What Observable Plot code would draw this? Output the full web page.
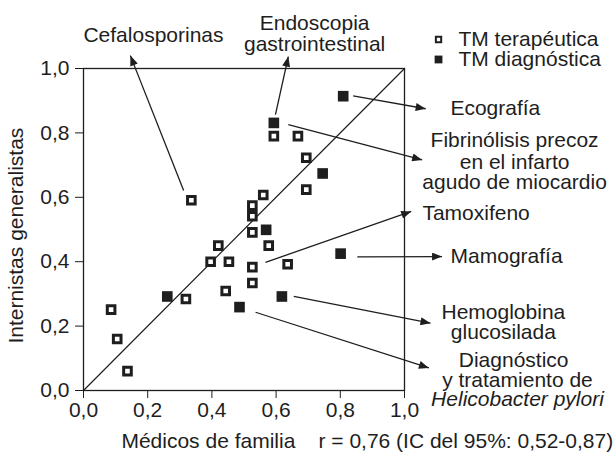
<!DOCTYPE html>
<html>
<head>
<meta charset="utf-8">
<script src="https://cdn.jsdelivr.net/npm/d3@7"></script>
<script src="https://cdn.jsdelivr.net/npm/@observablehq/plot@0.6"></script>
<style>
  body { margin: 0; background: #fff; }
  svg { display: block; }
</style>
</head>
<body>
<div id="chart"></div>
<script>
// Terapéutica (open squares)
const openX = [0.336, 0.593, 0.668, 0.694, 0.694, 0.560, 0.526, 0.526, 0.526, 0.420, 0.577, 0.396, 0.453, 0.526, 0.636, 0.526, 0.443, 0.319, 0.086, 0.105, 0.137];
const openY = [0.591, 0.790, 0.790, 0.723, 0.624, 0.607, 0.574, 0.541, 0.491, 0.450, 0.450, 0.400, 0.400, 0.383, 0.392, 0.334, 0.309, 0.284, 0.251, 0.160, 0.060];
// Diagnóstica (filled squares)
const filledX = [0.809, 0.593, 0.745, 0.569, 0.801, 0.261, 0.618, 0.486];
const filledY = [0.914, 0.831, 0.674, 0.499, 0.425, 0.292, 0.292, 0.259];

const ticks = [0, 0.2, 0.4, 0.6, 0.8, 1.0];
const diag = [0, 1];

// annotation arrows (data units)
const arrowX1 = [0.312, 0.598, 0.840, 0.638, 0.567, 0.853, 0.655, 0.536];
const arrowY1 = [0.621, 0.857, 0.915, 0.826, 0.398, 0.415, 0.292, 0.243];
const arrowX2 = [0.146, 0.638, 1.066, 1.055, 1.021, 1.117, 1.081, 1.076];
const arrowY2 = [1.040, 1.037, 0.875, 0.716, 0.556, 0.416, 0.209, 0.070];

// annotation labels (data units, centred)
const labelText = ["Cefalosporinas", "Endoscopia", "gastrointestinal", "Ecografía",
  "Fibrinólisis precoz", "en el infarto", "agudo de miocardio", "Tamoxifeno", "Mamografía",
  "Hemoglobina", "glucosilada", "Diagnóstico", "y tratamiento de"];
const labelX = [0.218, 0.720, 0.720, 1.283, 1.343, 1.343, 1.343, 1.223, 1.318, 1.308, 1.308, 1.340, 1.352];
const labelY = [1.102, 1.141, 1.075, 0.876, 0.776, 0.708, 0.646, 0.550, 0.416, 0.242, 0.180, 0.093, 0.031];
const italicText = ["Helicobacter pylori"];
const italicX = [1.352];
const italicY = [-0.027];

const legendText = ["TM terapéutica", "TM diagnóstica"];
const legendX = [1.106, 1.106];
const legendY = [1.090, 1.028];
const legendTextX = 1.168;

const xTitle = "Médicos de familia";
const corrText = "r = 0,76 (IC del 95%: 0,52-0,87)";
const yTitle = "Internistas generalistas";

const ink = "#1e1e1e";
const font = "'Liberation Sans', Arial, Helvetica, sans-serif";
const fs = 21;

const openData = openX.map((x, i) => ({x, y: openY[i]}));
const filledData = filledX.map((x, i) => ({x, y: filledY[i]}));
const arrows = arrowX1.map((x1, i) => ({x1, y1: arrowY1[i], x2: arrowX2[i], y2: arrowY2[i]}));
const labels = labelText.map((t, i) => ({t, x: labelX[i], y: labelY[i]}));
const italics = italicText.map((t, i) => ({t, x: italicX[i], y: italicY[i]}));
const legend = legendText.map((t, i) => ({t, x: legendX[i], y: legendY[i]}));

const fmt = d => d.toFixed(1).replace(".", ",");

const svg = Plot.plot({
  width: 614,
  height: 457,
  marginLeft: 83,
  marginRight: 210,
  marginTop: 68,
  marginBottom: 67,
  style: {fontFamily: font, fontSize: fs + "px", color: ink, background: "#fff"},
  x: {domain: [0, 1], ticks, tickFormat: fmt, tickSize: 8, tickPadding: 4, label: null},
  y: {domain: [0, 1], ticks, tickFormat: fmt, tickSize: 8, tickPadding: 6, label: null},
  marks: [
    Plot.frame({stroke: ink, strokeWidth: 1.3}),
    Plot.line(diag, {x: d => d, y: d => d, stroke: ink, strokeWidth: 1.2}),
    Plot.link(arrows, {x1: "x1", y1: "y1", x2: "x2", y2: "y2", stroke: ink, strokeWidth: 1.3}),
    Plot.dot(openData, {x: "x", y: "y", symbol: "square", r: 4.3, fill: "#fff", stroke: ink, strokeWidth: 3}),
    Plot.dot(filledData, {x: "x", y: "y", symbol: "square", r: 6.0, fill: ink, stroke: "none"}),
    Plot.dot([legend[0]], {x: "x", y: "y", symbol: "square", r: 3.0, fill: "#fff", stroke: ink, strokeWidth: 2}),
    Plot.dot([legend[1]], {x: "x", y: "y", symbol: "square", r: 4.4, fill: ink, stroke: "none"}),
    Plot.text(legend, {x: legendTextX, y: "y", text: "t", textAnchor: "start", fontSize: fs, fill: ink}),
    Plot.text(labels, {x: "x", y: "y", text: "t", textAnchor: "middle", fontSize: fs, fill: ink}),
    Plot.text(italics, {x: "x", y: "y", text: "t", textAnchor: "middle", fontSize: fs, fontStyle: "italic", fill: ink}),
    Plot.text([xTitle], {x: 0.389, y: -0.158, text: d => d, textAnchor: "middle", fontSize: fs, fill: ink}),
    Plot.text([corrText], {x: 0.732, y: -0.158, text: d => d, textAnchor: "start", fontSize: fs, fill: ink}),
    Plot.text([yTitle], {x: -0.209, y: 0.481, text: d => d, rotate: -90, textAnchor: "middle", fontSize: fs, fill: ink})
  ]
});

// filled triangular arrowheads on the annotation links
const ns = "http://www.w3.org/2000/svg";
const defs = document.createElementNS(ns, "defs");
const marker = document.createElementNS(ns, "marker");
marker.setAttribute("id", "ahead");
marker.setAttribute("viewBox", "0 0 10 8");
marker.setAttribute("refX", "10");
marker.setAttribute("refY", "4");
marker.setAttribute("markerWidth", "11");
marker.setAttribute("markerHeight", "8");
marker.setAttribute("markerUnits", "userSpaceOnUse");
marker.setAttribute("orient", "auto");
const tri = document.createElementNS(ns, "path");
tri.setAttribute("d", "M0,0L10,4L0,8Z");
tri.setAttribute("fill", ink);
tri.setAttribute("stroke", "none");
marker.appendChild(tri);
defs.appendChild(marker);
svg.insertBefore(defs, svg.firstChild);
svg.querySelectorAll('g[aria-label="link"] path, g[aria-label="link"] line').forEach(p => p.setAttribute("marker-end", "url(#ahead)"));

document.getElementById("chart").appendChild(svg);
</script>
</body>
</html>
